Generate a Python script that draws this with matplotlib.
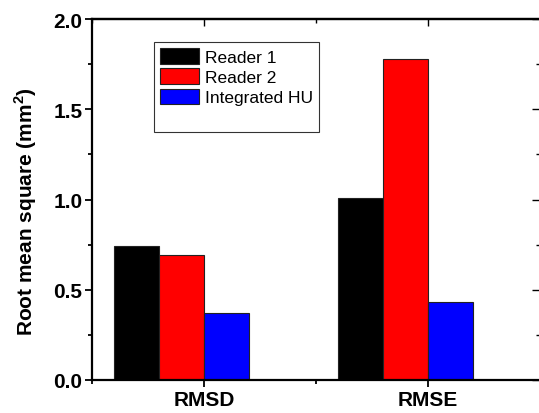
import matplotlib
matplotlib.use("Agg")
import matplotlib.pyplot as plt
from matplotlib.patches import Patch
from matplotlib.ticker import MultipleLocator, FormatStrFormatter

categories = ["RMSD", "RMSE"]
series_names = ["Reader 1", "Reader 2", "Integrated HU"]
reader1 = [0.74, 1.01]
reader2 = [0.69, 1.78]
integrated = [0.37, 0.43]
colors = ["#000000", "#ff0000", "#0000ff"]

plt.rcParams["font.family"] = ["Liberation Sans", "DejaVu Sans"]
plt.rcParams["mathtext.fontset"] = "custom"
plt.rcParams["mathtext.bf"] = "Liberation Sans:bold"
plt.rcParams["mathtext.rm"] = "Liberation Sans:bold"

fig = plt.figure(figsize=(5.39, 4.14), dpi=100)
ax = fig.add_axes([92 / 539, 33 / 414, 448 / 539, 361 / 414])

xpos = [1, 2]
width = 0.2
for i, (vals, col) in enumerate(zip([reader1, reader2, integrated], colors)):
    ax.bar([x - 0.4 + i * width for x in xpos], vals, width=width, align="edge",
           color=col, edgecolor="#222222", linewidth=0.8, zorder=2)

ax.set_xlim(0.5, 2.5)
ax.set_ylim(0, 2.0)
ax.set_xticks(xpos)
ax.set_xticklabels(categories, fontsize=15, fontweight="bold")
ax.xaxis.set_minor_locator(MultipleLocator(0.5))
ax.yaxis.set_major_locator(MultipleLocator(0.5))
ax.yaxis.set_minor_locator(MultipleLocator(0.25))
ax.yaxis.set_major_formatter(FormatStrFormatter("%.1f"))
for lab in ax.get_yticklabels():
    lab.set_fontsize(15)
    lab.set_fontweight("bold")

for sp in ax.spines.values():
    sp.set_linewidth(1.6)

ax.tick_params(which="both", direction="out", top=False, right=False, width=1.3)
ax.tick_params(which="major", length=5, pad=2)
ax.tick_params(which="minor", length=3)

# inward ticks on top and right, like the source plot
ax_t = ax.secondary_xaxis("top")
ax_t.set_xticks(xpos)
ax_t.set_xticklabels([])
ax_t.xaxis.set_minor_locator(MultipleLocator(0.5))
ax_t.tick_params(which="both", direction="in", width=1.0)
ax_t.tick_params(which="major", length=5)
ax_t.tick_params(which="minor", length=3)
ax_t.spines["top"].set_linewidth(1.6)
ax_r = ax.secondary_yaxis("right")
ax_r.yaxis.set_major_locator(MultipleLocator(0.5))
ax_r.yaxis.set_minor_locator(MultipleLocator(0.25))
ax_r.set_yticklabels([])
ax_r.tick_params(which="both", direction="in", width=1.0)
ax_r.tick_params(which="major", length=6)
ax_r.tick_params(which="minor", length=3)

ax.set_ylabel(r"Root mean square (mm$^\mathbf{2}$)", fontsize=15, fontweight="bold")
ax.yaxis.set_label_coords(-0.118, 0.47)

handles = [Patch(facecolor=c, edgecolor="#222222", linewidth=0.8) for c in colors]
handles.append(Patch(facecolor="none", edgecolor="none"))
leg = ax.legend(handles, series_names + [" "], loc="upper left",
                bbox_to_anchor=(0.138, 0.936), fontsize=12.5, frameon=True,
                fancybox=False, shadow=False, handlelength=2.25, handleheight=1.0,
                labelspacing=0.2, handletextpad=0.35, borderpad=0.35,
                borderaxespad=0.0)
leg.get_frame().set_edgecolor("black")
leg.get_frame().set_linewidth(0.8)

fig.savefig("out.png", dpi=100)
